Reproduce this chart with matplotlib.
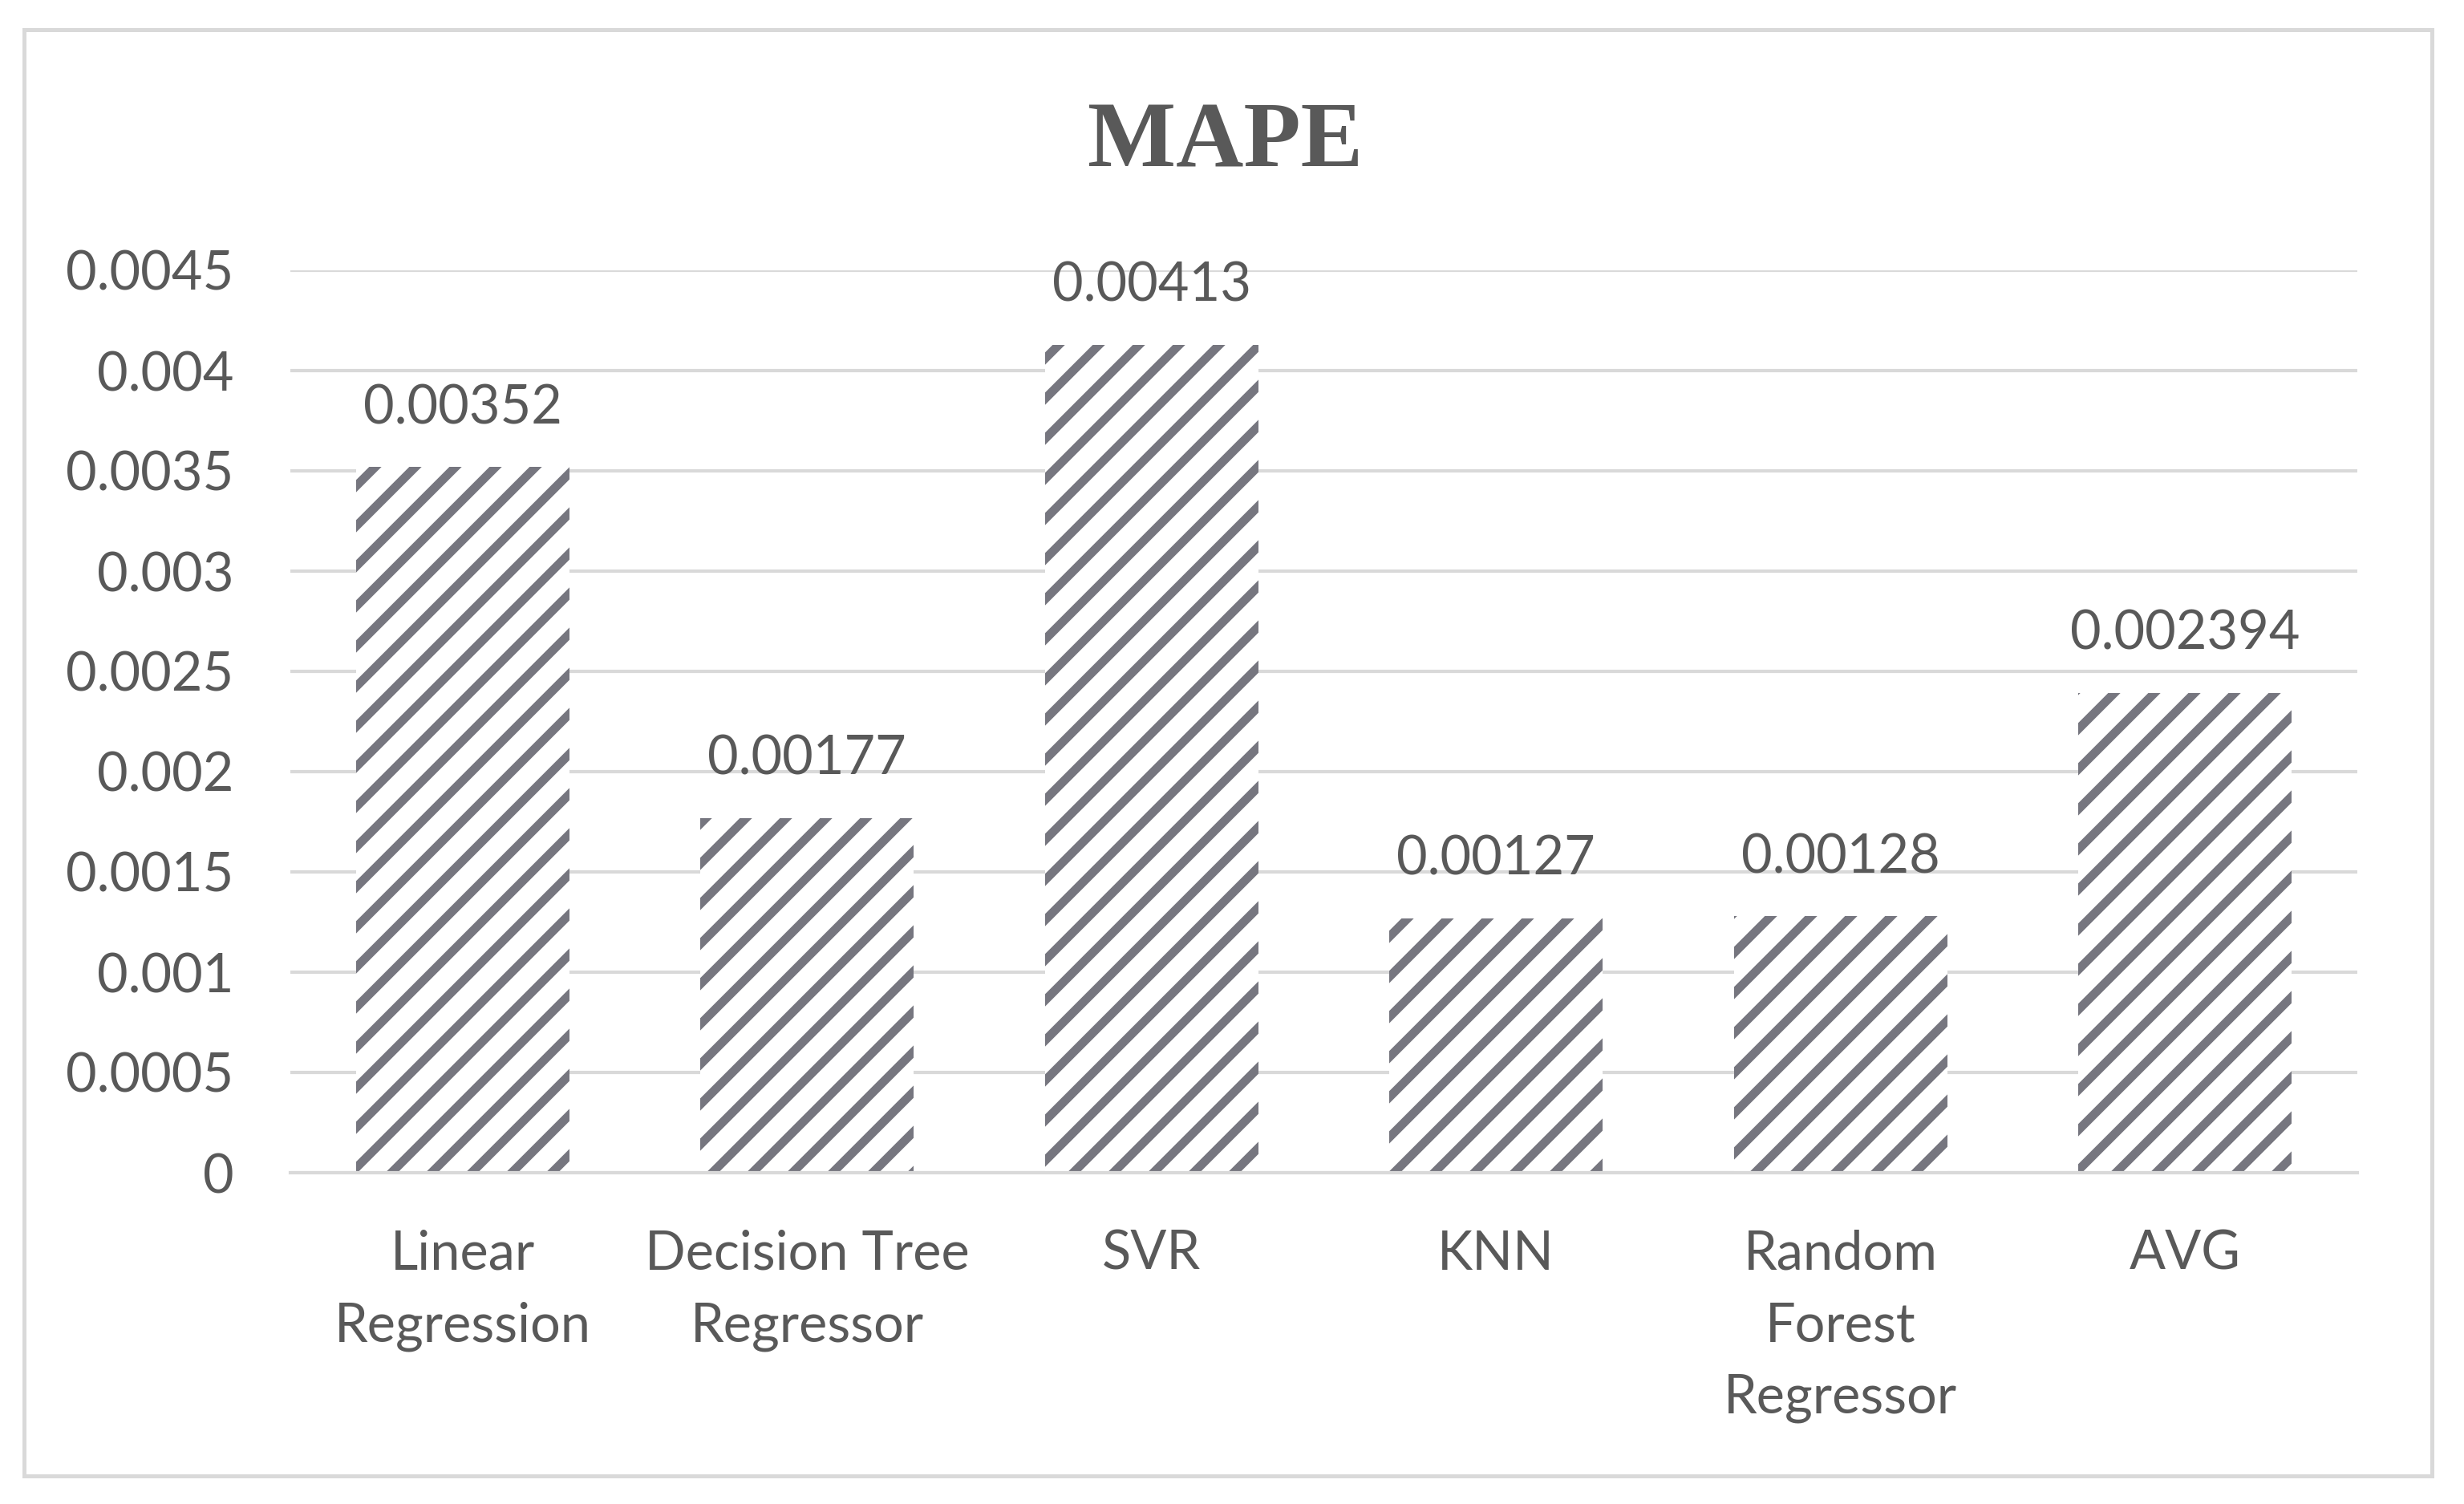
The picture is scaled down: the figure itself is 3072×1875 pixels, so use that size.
import matplotlib
matplotlib.use("Agg")
import matplotlib.pyplot as plt
from matplotlib.patches import Rectangle

categories = ["Linear\nRegression", "Decision Tree\nRegressor", "SVR", "KNN",
              "Random\nForest\nRegressor", "AVG"]
values = [0.00352, 0.00177, 0.00413, 0.00127, 0.00128, 0.002394]
value_labels = ["0.00352", "0.00177", "0.00413", "0.00127", "0.00128", "0.002394"]
yticks = [0, 0.0005, 0.001, 0.0015, 0.002, 0.0025, 0.003, 0.0035, 0.004, 0.0045]
ytick_labels = ["0", "0.0005", "0.001", "0.0015", "0.002", "0.0025", "0.003",
                "0.0035", "0.004", "0.0045"]

hatch_col = "#76767f"
text_col = "#595959"
grid_col = "#d9d9d9"

plt.rcParams["hatch.linewidth"] = 2.6
plt.rcParams["hatch.color"] = hatch_col
plt.rcParams["font.family"] = ["Lato", "DejaVu Sans"]

fig = plt.figure(figsize=(10.24, 6.25), dpi=300, facecolor="white")
ax = fig.add_axes([362/3072, 1-1462/1875, (2939-362)/3072, (1462-337)/1875])

x = list(range(len(categories)))
ax.bar(x, values, width=0.62, color="white", edgecolor=hatch_col,
       linewidth=0, hatch="//", zorder=3)

for xi, v, lab in zip(x, values, value_labels):
    ax.annotate(lab, (xi, v), xytext=(0, 17.5), textcoords="offset points",
                ha="center", va="center", fontsize=16, color=text_col)

ax.set_xlim(-0.5, len(categories) - 0.5)
ax.set_ylim(0, 0.0045)
ax.set_yticks(yticks)
ax.set_yticklabels(ytick_labels)
ax.set_xticks(x)
ax.set_xticklabels(categories, linespacing=1.55)
ax.tick_params(axis="both", length=0, labelsize=16, labelcolor=text_col)
ax.tick_params(axis="y", pad=17)
ax.tick_params(axis="x", pad=17)
ax.yaxis.grid(True, color=grid_col, linewidth=1.0, zorder=0)
ax.set_axisbelow(True)
for s in ["top", "right", "left"]:
    ax.spines[s].set_visible(False)
ax.spines["bottom"].set_color(grid_col)
ax.spines["bottom"].set_linewidth(1.0)
ax.spines["bottom"].set_zorder(4)

fig.text(1528/3072, 1-180/1875, "MAPE", ha="center", va="center",
         fontsize=28, fontweight="bold", color=text_col,
         family=["Liberation Serif", "DejaVu Serif"])

fig.patches.append(Rectangle((30/3072, 1-1840/1875), (3032-30)/3072, (1840-37)/1875,
                             transform=fig.transFigure, fill=False,
                             edgecolor=grid_col, linewidth=1.2))

fig.savefig("out.png", dpi=300, facecolor="white")
